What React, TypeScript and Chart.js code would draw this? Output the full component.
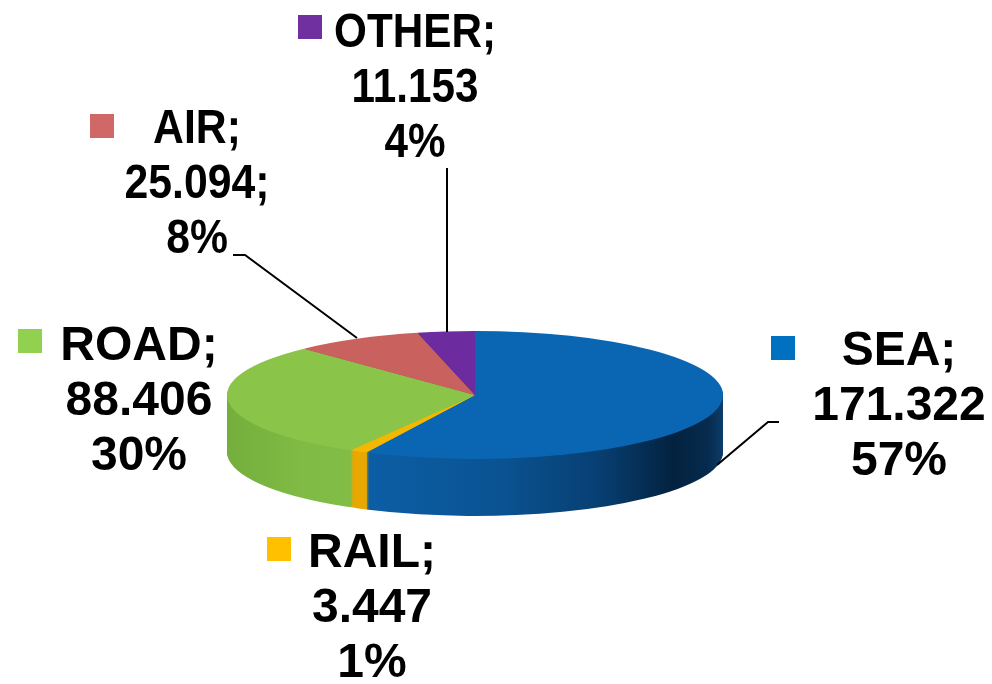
import React, { useEffect, useRef } from "react";
import { Chart, registerables } from "chart.js";

Chart.register(...registerables);

// ---- data ----
const categories = ["SEA", "RAIL", "ROAD", "AIR", "OTHER"];
const values = [171.322, 3.447, 88.406, 25.094, 11.153];
const valueLabels = ["171.322", "3.447", "88.406", "25.094;", "11.153"];
const percentLabels = ["57%", "1%", "30%", "8%", "4%"];

// ---- styles ----
const topColors = ["#0A66B2", "#F5B800", "#8AC54A", "#C9625F", "#6C2B9E"];
const sideColors = ["#0B5496", "#E9A800", "#7DB843", "#A94D4B", "#57207F"];
const legendColors = ["#0070C0", "#FFC000", "#92D050", "#D16868", "#7030A0"];

const W = 992;
const H = 684;
const TILT = 64 / 248;
const DEPTH = 57;

// label layout: square position, text centre, first baseline, horizontal squeeze
const labelLayout = [
  { sq: [771, 336], cx: 899, y0: 365, sx: 1.0 },
  { sq: [267, 537], cx: 372, y0: 567, sx: 1.0 },
  { sq: [18, 329], cx: 139, y0: 360, sx: 1.0 },
  { sq: [90, 114], cx: 197, y0: 143, sx: 0.89 },
  { sq: [298, 15], cx: 415, y0: 47, sx: 0.88 },
];
const leaderLines = [
  [[717, 465], [768, 422], [779, 422]],
  [[233, 255], [245, 255], [357, 338]],
  [[447, 168], [447, 332]],
];

const pie3d = {
  id: "pie3d",
  beforeDatasetsDraw(chart: any) {
    const ctx: CanvasRenderingContext2D = chart.ctx;
    const meta = chart.getDatasetMeta(0);
    const arcs: any[] = meta.data;
    if (!arcs.length) return false;
    const cx = arcs[0].x;
    const cy = arcs[0].y;
    const r = arcs[0].outerRadius;

    const seaGrad = ctx.createLinearGradient(cx - r, 0, cx + r, 0);
    seaGrad.addColorStop(0, "#0E62AA");
    seaGrad.addColorStop(0.3, "#0C5DA4");
    seaGrad.addColorStop(0.55, "#0A5392");
    seaGrad.addColorStop(0.75, "#073F72");
    seaGrad.addColorStop(0.9, "#03223F");
    seaGrad.addColorStop(0.97, "#062B4E");
    seaGrad.addColorStop(1, "#0C3D6A");
    const greenGrad = ctx.createLinearGradient(cx - r, 0, cx, 0);
    greenGrad.addColorStop(0, "#74AE3C");
    greenGrad.addColorStop(0.3, "#80BB45");
    greenGrad.addColorStop(1, "#84C048");
    const sideFills: any[] = sideColors.slice();
    sideFills[0] = seaGrad;
    sideFills[2] = greenGrad;

    const saved = arcs.map((a) => a.options);
    arcs.forEach((a, i) => {
      a.options = { ...saved[i], backgroundColor: sideFills[i], borderWidth: 0 };
    });
    for (let d = DEPTH; d >= 1; d--) {
      ctx.save();
      ctx.translate(cx, cy + d);
      ctx.scale(1, TILT);
      ctx.translate(-cx, -cy);
      arcs.forEach((a) => a.draw(ctx));
      ctx.restore();
    }
    arcs.forEach((a, i) => {
      a.options = saved[i];
    });

    ctx.save();
    ctx.translate(cx, cy);
    ctx.scale(1, TILT);
    ctx.translate(-cx, -cy);
    arcs.forEach((a) => a.draw(ctx));
    ctx.restore();
    return false;
  },
};

const labelsPlugin = {
  id: "pieLabels",
  afterDraw(chart: any) {
    const ctx: CanvasRenderingContext2D = chart.ctx;
    ctx.save();
    // leader lines
    ctx.strokeStyle = "#000";
    ctx.lineWidth = 2;
    leaderLines.forEach((pts) => {
      ctx.beginPath();
      pts.forEach((p, i) => (i === 0 ? ctx.moveTo(p[0], p[1]) : ctx.lineTo(p[0], p[1])));
      ctx.stroke();
    });
    // labels
    ctx.font = 'bold 48px "Liberation Sans", Arial, sans-serif';
    ctx.textAlign = "center";
    ctx.textBaseline = "alphabetic";
    categories.forEach((cat, i) => {
      const L = labelLayout[i];
      ctx.fillStyle = legendColors[i];
      ctx.fillRect(L.sq[0], L.sq[1], 24, 24);
      ctx.fillStyle = "#000";
      const lines = [cat + ";", valueLabels[i], percentLabels[i]];
      lines.forEach((t, j) => {
        ctx.save();
        ctx.translate(L.cx, L.y0 + j * 55);
        ctx.scale(L.sx, 1);
        ctx.fillText(t, 0, 0);
        ctx.restore();
      });
    });
    ctx.restore();
  },
};

export default function App() {
  const ref = useRef<HTMLCanvasElement | null>(null);
  useEffect(() => {
    if (!ref.current) return;
    const chart = new Chart(ref.current, {
      type: "pie",
      data: {
        labels: categories,
        datasets: [
          {
            data: values,
            backgroundColor: topColors,
            borderWidth: 0,
          },
        ],
      },
      options: {
        responsive: false,
        animation: false,
        events: [],
        layout: { padding: { left: 227, right: 269, top: 147, bottom: 41 } },
        plugins: { legend: { display: false }, tooltip: { enabled: false } },
      },
      plugins: [pie3d, labelsPlugin],
    } as any);
    return () => chart.destroy();
  }, []);
  return (
    <div style={{ position: "fixed", left: 0, top: 0, width: W, height: H, background: "#fff" }}>
      <canvas ref={ref} width={W} height={H} style={{ width: W, height: H, display: "block" }} />
    </div>
  );
}
